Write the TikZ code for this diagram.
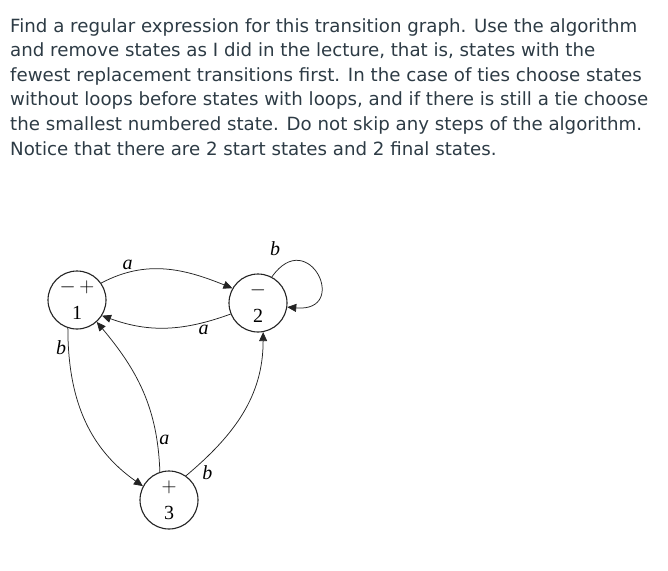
\documentclass[tikz,border=0pt]{standalone}
\usepackage{fontspec}
\setmainfont{Liberation Serif}
\newfontfamily\uifont{DejaVu Sans}
\usetikzlibrary{arrows.meta}
\definecolor{inktext}{RGB}{45,59,69}
\definecolor{inkline}{RGB}{35,35,35}

\tikzset{
  state/.style={circle, draw=inkline, line width=1.1pt, minimum size=58pt,
    inner sep=0pt, align=center, font=\fontsize{20}{27}\selectfont},
  edge/.style={draw=inkline, line width=0.75pt,
    -{Triangle[length=9pt,width=8pt]}},
  lbl/.style={font=\fontsize{20}{24}\selectfont\itshape, inner sep=2pt}
}

\begin{document}
\begin{tikzpicture}[x=1pt, y=-1pt]
\useasboundingbox (0,0) rectangle (668,570);

% ── question text ───────────────────────────────────────────────
\node[anchor=north west, inner sep=0pt, align=left, text=inktext,
      font=\uifont\fontsize{18.2}{24.6}\selectfont] (prompt) at (10,18)
  {Find a regular expression for this transition graph. Use the algorithm\\
   and remove states as I did in the lecture, that is, states with the\\
   fewest replacement transitions first. In the case of ties choose states\\
   without loops before states with loops, and if there is still a tie choose\\
   the smallest numbered state. Do not skip any steps of the algorithm.\\
   Notice that there are 2 start states and 2 final states.};

% ── states ──────────────────────────────────────────────────────
\node[state] (s1) at (77,300) {$-\,+$\\1};
\node[state] (s2) at (258,303) {$-$\\2};
\node[state] (s3) at (169,500) {$+$\\3};

% ── transitions ─────────────────────────────────────────────────
\draw[edge] (s1.35) to[out=28, in=158] node[lbl, pos=.2, above] {a} (s2.150);
\draw[edge] (s2.202) to[out=200, in=-20] node[lbl, pos=.2, below] {a} (s1.-32);
\draw[edge] (s2.62) to[out=55, in=-5, looseness=4.8] (s2.-8);
\node[lbl] (loopb) at (275,249) {b};
\draw[edge] (s1.-108) to[out=-90, in=145] node[lbl, pos=.1, left] {b} (s3.152);
\draw[edge] (s3.108) to[out=92, in=-50] node[lbl, pos=.18, right] {a} (s1.-48);
\draw[edge] (s3.55) to[out=40, in=-90] node[lbl, pos=.1, below right] {b} (s2.-80);

\end{tikzpicture}
\end{document}
